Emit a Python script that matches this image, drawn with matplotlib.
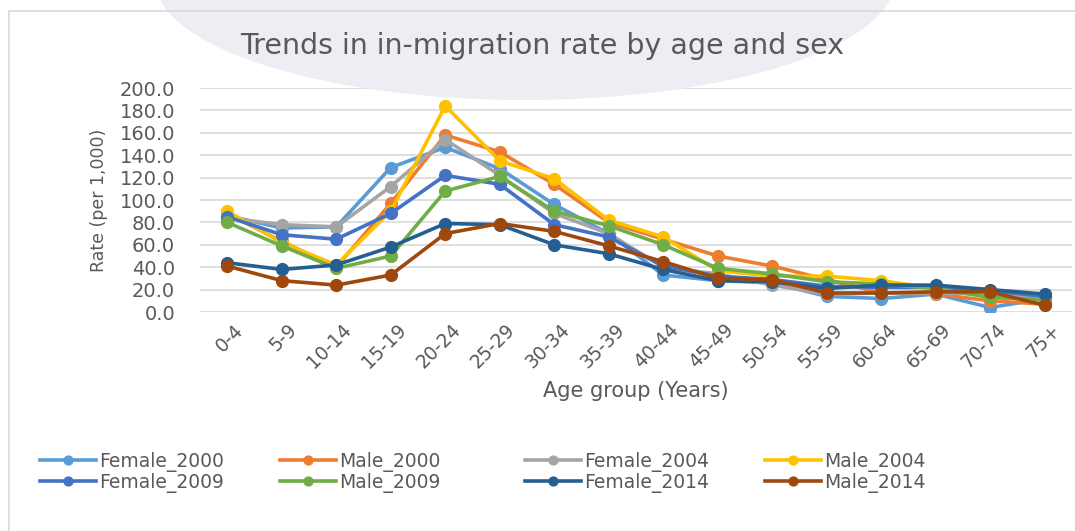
import numpy as np
import matplotlib
matplotlib.use("Agg")
import matplotlib.pyplot as plt
from matplotlib.patches import Ellipse, Rectangle
from matplotlib.transforms import ScaledTranslation

plt.rcParams['font.family'] = ['DejaVu Sans']

age_groups = ["0-4", "5-9", "10-14", "15-19", "20-24", "25-29", "30-34", "35-39",
              "40-44", "45-49", "50-54", "55-59", "60-64", "65-69", "70-74", "75+"]

female_2000 = [86, 75, 76, 129, 147, 128, 96, 70, 33, 28, 26, 14, 12, 16, 4, 12]
male_2000   = [88, 63, 40, 97, 158, 143, 114, 80, 65, 50, 41, 29, 17, 16, 10, 7]
female_2004 = [84, 78, 76, 112, 154, 122, 88, 70, 40, 34, 24, 16, 17, 17, 16, 13]
male_2004   = [90, 62, 42, 90, 184, 135, 119, 82, 67, 37, 32, 32, 28, 21, 14, 10]
female_2009 = [85, 69, 65, 88, 122, 114, 78, 67, 41, 32, 29, 23, 22, 22, 19, 14]
male_2009   = [80, 59, 39, 50, 108, 121, 90, 77, 60, 39, 34, 27, 25, 21, 13, 11]
female_2014 = [44, 38, 42, 58, 79, 78, 60, 52, 38, 28, 27, 21, 24, 24, 20, 16]
male_2014   = [41, 28, 24, 33, 70, 79, 72, 59, 45, 30, 29, 17, 17, 18, 18, 6]

series = [
    ("Female_2000", female_2000, "#5B9BD5"),
    ("Male_2000", male_2000, "#ED7D31"),
    ("Female_2004", female_2004, "#A5A5A5"),
    ("Male_2004", male_2004, "#FFC000"),
    ("Female_2009", female_2009, "#4472C4"),
    ("Male_2009", male_2009, "#70AD47"),
    ("Female_2014", female_2014, "#255E91"),
    ("Male_2014", male_2014, "#9E480E"),
]

W, H = 1075, 531
TXT = "#595959"
fig = plt.figure(figsize=(W / 100, H / 100), dpi=100)

# faint watermark-ish background and chart border
fig.patches.append(Ellipse((525 / W, 1 - (-20) / H), 740 / W, 240 / H, transform=fig.transFigure,
                           facecolor="#EDEDF4", edgecolor="none", zorder=0))
fig.patches.append(Rectangle((9 / W, -0.1), 1.2, 1.1 - 11 / H, transform=fig.transFigure,
                             facecolor="none", edgecolor="#D9D9D9", lw=1.2, zorder=1))

ax = fig.add_axes([200 / W, 1 - 312 / H, 872 / W, 224 / H])
ax.set_facecolor("none")

x = np.arange(len(age_groups))
handles = []
for name, vals, col in series:
    ln, = ax.plot(x, vals, color=col, lw=2.6, marker="o", ms=8.5, label=name,
                  solid_joinstyle="round")
    handles.append(ln)

ax.set_xlim(-0.5, len(age_groups) - 0.5)
ax.set_ylim(0, 200)
ax.set_yticks(np.arange(0, 201, 20))
ax.set_yticklabels([f"{v:.1f}" for v in np.arange(0, 201, 20)])
ax.set_xticks(x)
ax.set_xticklabels(age_groups, rotation=45, ha="right", rotation_mode="anchor")
ax.tick_params(length=0, labelsize=13.5, colors=TXT, pad=6)
ax.tick_params(axis="y", labelsize=14, pad=18)
shift = ScaledTranslation(6 / 100, 0, fig.dpi_scale_trans)
for lab in ax.get_xticklabels():
    lab.set_transform(lab.get_transform() + shift)
for s in ax.spines.values():
    s.set_visible(False)
ax.grid(axis="y", color="#D9D9D9", lw=1.2)
ax.set_axisbelow(True)

ax.set_xlabel("Age group (Years)", fontsize=15, color=TXT, labelpad=6)
ax.set_ylabel("Rate (per 1,000)", fontsize=12.5, color=TXT, labelpad=8)

fig.text(542 / W, 1 - 46 / H, "Trends in in-migration rate by age and sex", ha="center",
         va="center", fontsize=20.5, color=TXT)

# legend: 4 columns, two rows each
col_x = [40, 280, 525, 765]
for j, cx in enumerate(col_x):
    fig.legend(handles=[handles[j], handles[j + 4]], loc="upper left",
               bbox_to_anchor=(cx / W, 1 - 452 / H), frameon=False, fontsize=13.5,
               handlelength=3.0, handletextpad=0.15, labelspacing=0.05,
               borderpad=0, borderaxespad=0, labelcolor=TXT, markerscale=0.75)

fig.savefig("out.png", dpi=100)
